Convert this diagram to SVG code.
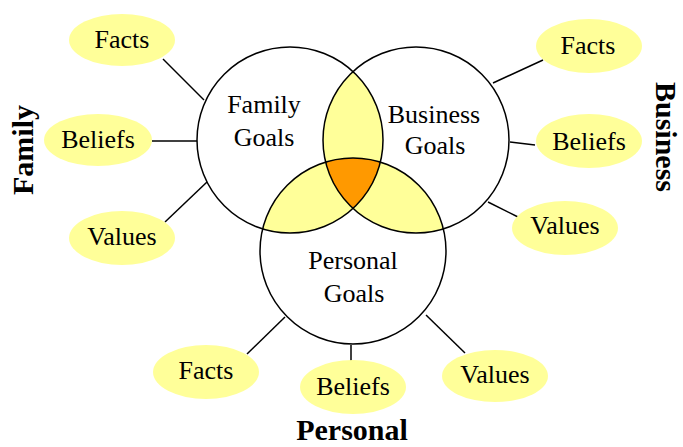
<svg xmlns="http://www.w3.org/2000/svg" width="683" height="447" viewBox="0 0 683 447">
<style>
.lbl{font-family:"Liberation Serif","Times New Roman",serif;font-size:26px;fill:#000;text-anchor:middle}
.ttl{font-family:"Liberation Serif","Times New Roman",serif;font-size:30px;font-weight:bold;fill:#000;text-anchor:middle}
.ell{fill:#FFFF99;stroke:none}
.ring{fill:none;stroke:#000;stroke-width:1.5}
.con line{stroke:#000;stroke-width:1.5}
</style>
<defs>
<clipPath id="cF"><circle cx="290" cy="140" r="93"/></clipPath>
<clipPath id="cB"><circle cx="416" cy="140" r="93"/></clipPath>
<clipPath id="cP"><circle cx="353" cy="251" r="93"/></clipPath>
</defs>
<rect width="683" height="447" fill="#fff"/>
<g id="connectors" class="con">
<line x1="163" y1="59" x2="204" y2="100"/>
<line x1="152" y1="141" x2="198" y2="141"/>
<line x1="165" y1="222" x2="207" y2="182"/>
<line x1="493" y1="83" x2="543" y2="60"/>
<line x1="510" y1="142" x2="535" y2="145"/>
<line x1="488" y1="202" x2="518" y2="217"/>
<line x1="285" y1="317" x2="247" y2="354"/>
<line x1="351" y1="345" x2="351" y2="361"/>
<line x1="426" y1="315" x2="465" y2="353"/>
</g>
<g id="venn">
<circle cx="290" cy="140" r="93" fill="#fff"/>
<circle cx="416" cy="140" r="93" fill="#fff"/>
<circle cx="353" cy="251" r="93" fill="#fff"/>
<circle cx="416" cy="140" r="93" fill="#FFFF99" clip-path="url(#cF)"/>
<circle cx="353" cy="251" r="93" fill="#FFFF99" clip-path="url(#cF)"/>
<circle cx="353" cy="251" r="93" fill="#FFFF99" clip-path="url(#cB)"/>
<g clip-path="url(#cB)"><circle cx="353" cy="251" r="93" fill="#FF9900" clip-path="url(#cF)"/></g>
</g>
<g id="family-goals">
<circle class="ring" cx="290" cy="140" r="93"/>
<text class="lbl" x="264" y="113">Family</text>
<text class="lbl" x="264" y="146">Goals</text>
</g>
<g id="business-goals">
<circle class="ring" cx="416" cy="140" r="93"/>
<text class="lbl" x="434" y="123">Business</text>
<text class="lbl" x="435" y="154">Goals</text>
</g>
<g id="personal-goals">
<circle class="ring" cx="353" cy="251" r="93"/>
<text class="lbl" x="353" y="269">Personal</text>
<text class="lbl" x="354" y="302">Goals</text>
</g>
<g id="family-facts"><ellipse class="ell" cx="122" cy="40" rx="53" ry="26"/><text class="lbl" x="122" y="48">Facts</text></g>
<g id="family-beliefs"><ellipse class="ell" cx="98" cy="140" rx="54" ry="26"/><text class="lbl" x="98" y="148">Beliefs</text></g>
<g id="family-values"><ellipse class="ell" cx="122" cy="238" rx="53" ry="27"/><text class="lbl" x="122" y="245">Values</text></g>
<g id="business-facts"><ellipse class="ell" cx="589" cy="46" rx="53" ry="27"/><text class="lbl" x="588" y="54">Facts</text></g>
<g id="business-beliefs"><ellipse class="ell" cx="589" cy="141" rx="53" ry="27"/><text class="lbl" x="589" y="150">Beliefs</text></g>
<g id="business-values"><ellipse class="ell" cx="565" cy="228" rx="53" ry="27"/><text class="lbl" x="565" y="234">Values</text></g>
<g id="personal-facts"><ellipse class="ell" cx="206" cy="372" rx="53" ry="27"/><text class="lbl" x="206" y="379">Facts</text></g>
<g id="personal-beliefs"><ellipse class="ell" cx="353" cy="387" rx="53" ry="27"/><text class="lbl" x="353" y="395">Beliefs</text></g>
<g id="personal-values"><ellipse class="ell" cx="495" cy="376" rx="53" ry="26"/><text class="lbl" x="495" y="383">Values</text></g>
<g id="title-family"><text class="ttl" transform="translate(33,150) rotate(-90)">Family</text></g>
<g id="title-business"><text class="ttl" transform="translate(656,137) rotate(90)">Business</text></g>
<g id="title-personal"><text class="ttl" x="352" y="440">Personal</text></g>
</svg>
